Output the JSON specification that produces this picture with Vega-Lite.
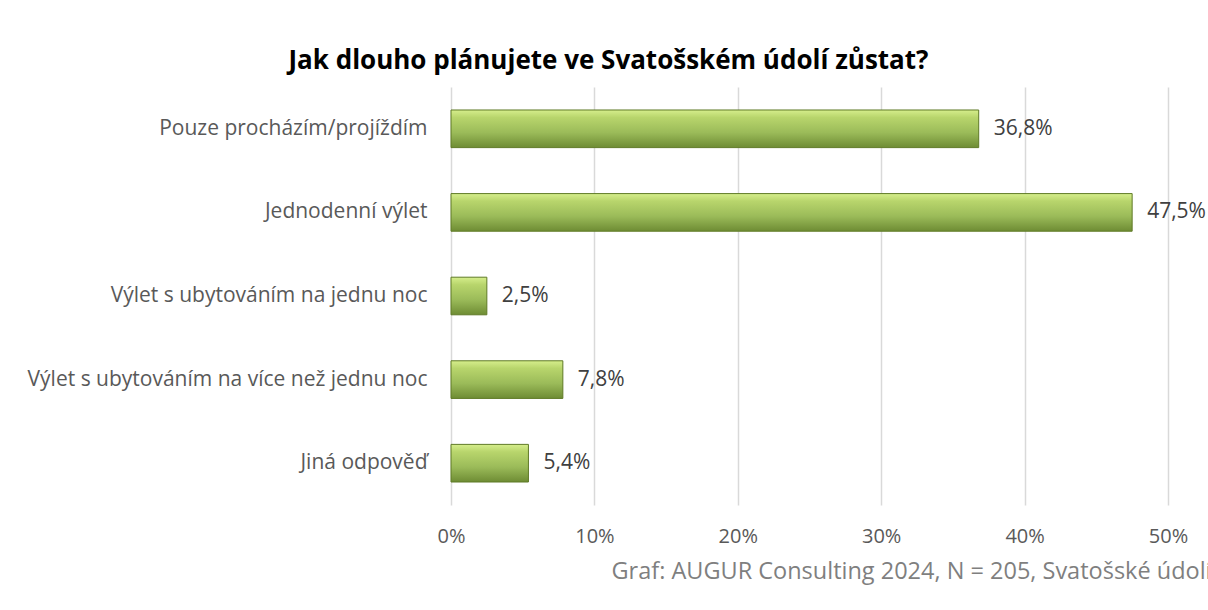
{
  "$schema": "https://vega.github.io/schema/vega-lite/v6.json",
  "width": 717,
  "height": 418,
  "autosize": {"type": "none"},
  "padding": {"left": 451, "top": 87, "right": 40, "bottom": 105},
  "background": "white",
  "config": {
    "font": "Open Sans",
    "view": {"stroke": null},
    "locale": {"number": {"decimal": ",", "thousands": " ", "grouping": [3], "currency": ["", " Kč"]}}
  },
  "title": {
    "text": "Jak dlouho plánujete ve Svatošském údolí zůstat?",
    "font": "Open Sans",
    "fontSize": 26,
    "fontWeight": "bold",
    "color": "#000000",
    "anchor": "middle",
    "frame": "group",
    "dx": -201,
    "offset": 13
  },
  "data": {
    "values": [
      {"kategorie": "Pouze procházím/projíždím", "podil": 0.368},
      {"kategorie": "Jednodenní výlet", "podil": 0.475},
      {"kategorie": "Výlet s ubytováním na jednu noc", "podil": 0.025},
      {"kategorie": "Výlet s ubytováním na více než jednu noc", "podil": 0.078},
      {"kategorie": "Jiná odpověď", "podil": 0.054}
    ]
  },
  "encoding": {
    "y": {
      "field": "kategorie",
      "type": "nominal",
      "sort": null,
      "scale": {"paddingInner": 0.55, "paddingOuter": 0.275},
      "axis": {
        "title": null,
        "domain": false,
        "ticks": false,
        "labelFontSize": 21,
        "labelColor": "#595959",
        "labelPadding": 24,
        "labelLimit": 500
      }
    },
    "x": {
      "field": "podil",
      "type": "quantitative",
      "scale": {"domain": [0, 0.5], "nice": false},
      "axis": {
        "format": ".0%",
        "values": [0, 0.1, 0.2, 0.3, 0.4, 0.5],
        "labelOverlap": false,
        "labelFlush": false,
        "domain": false,
        "ticks": false,
        "grid": true,
        "gridColor": "#d9d9d9",
        "gridWidth": 1.5,
        "labelFontSize": 20,
        "labelColor": "#595959",
        "labelPadding": 21,
        "title": "Graf: AUGUR Consulting 2024, N = 205, Svatošské údolí",
        "titleFont": "Open Sans",
        "titleFontSize": 23.5,
        "titleFontWeight": "normal",
        "titleColor": "#7f7f7f",
        "titleAnchor": "start",
        "titleAlign": "left",
        "titleBaseline": "middle",
        "titleX": 160,
        "titleY": 66
      }
    }
  },
  "layer": [
    {
      "mark": {
        "type": "bar",
        "stroke": "#5f7a26",
        "strokeWidth": 1,
        "color": {
          "gradient": "linear",
          "x1": 0, "y1": 0, "x2": 0, "y2": 1,
          "stops": [
            {"offset": 0, "color": "#d6ee8c"},
            {"offset": 0.2, "color": "#b8d56c"},
            {"offset": 0.6, "color": "#9bbb59"},
            {"offset": 1, "color": "#6e8c34"}
          ]
        }
      }
    },
    {
      "mark": {"type": "text", "align": "left", "baseline": "middle", "dx": 15, "fontSize": 21, "color": "#404040"},
      "encoding": {"text": {"field": "podil", "type": "quantitative", "format": ".1%"}}
    }
  ]
}
